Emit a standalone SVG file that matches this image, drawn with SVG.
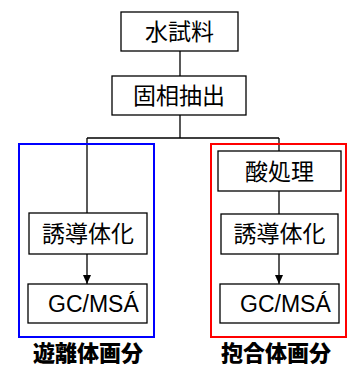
<svg xmlns="http://www.w3.org/2000/svg" width="350" height="369" viewBox="0 0 350 369">
<defs>
<style>
.box{fill:#fff;stroke:#000;stroke-width:1.3}
.t{font-family:"Liberation Sans","Noto Sans CJK JP",sans-serif;font-size:23px;fill:#000}
.c{text-anchor:middle}
.lbl{font-family:"Noto Sans CJK JP",sans-serif;font-size:22px;font-weight:900;text-anchor:middle;fill:#000}
.ln{fill:none;stroke:#000;stroke-width:1.3}
</style>
<marker id="ah" markerWidth="9" markerHeight="8" refX="9" refY="4" orient="auto" markerUnits="userSpaceOnUse" viewBox="0 0 9 8">
<path d="M0,0 L9,4 L0,8 Z" fill="#000"/>
</marker>
</defs>
<rect x="0" y="0" width="350" height="369" fill="#fff"/>
<g id="connectors">
<path class="ln" d="M180,51 V76"/>
<path class="ln" d="M180,115 V138 M87,138 H279"/>
<path class="ln" d="M87,138 V213"/>
<path class="ln" d="M279,138 V151"/>
<path class="ln" d="M279,191 V214"/>
<path class="ln" d="M87,254 V284" marker-end="url(#ah)"/>
<path class="ln" d="M279,254 V284" marker-end="url(#ah)"/>
</g>
<g id="group-free">
<rect x="19" y="144" width="135" height="193" fill="none" stroke="#0000ff" stroke-width="2"/>
<text class="lbl" x="88" y="361">遊離体画分</text>
</g>
<g id="group-conj">
<rect x="211" y="144" width="135" height="193" fill="none" stroke="#ff0000" stroke-width="2"/>
<text class="lbl" x="276" y="361">抱合体画分</text>
</g>
<g id="n-water">
<rect class="box" x="121" y="12" width="117" height="39"/>
<text class="t c" x="179.5" y="40">水試料</text>
</g>
<g id="n-spe">
<rect class="box" x="112" y="76" width="134" height="39"/>
<text class="t c" x="179" y="104">固相抽出</text>
</g>
<g id="n-deriv-l">
<rect class="box" x="29" y="213" width="118" height="41"/>
<text class="t c" x="88" y="242">誘導体化</text>
</g>
<g id="n-gcms-l">
<rect class="box" x="28" y="284" width="119" height="39"/>
<text class="t" x="48" y="312">GC/MSÁ</text>
</g>
<g id="n-acid">
<rect class="box" x="218" y="151" width="123" height="40"/>
<text class="t c" x="279.5" y="180">酸処理</text>
</g>
<g id="n-deriv-r">
<rect class="box" x="221" y="214" width="117" height="40"/>
<text class="t c" x="279.5" y="242">誘導体化</text>
</g>
<g id="n-gcms-r">
<rect class="box" x="220" y="284" width="119" height="39"/>
<text class="t" x="240" y="312">GC/MSÁ</text>
</g>
</svg>
